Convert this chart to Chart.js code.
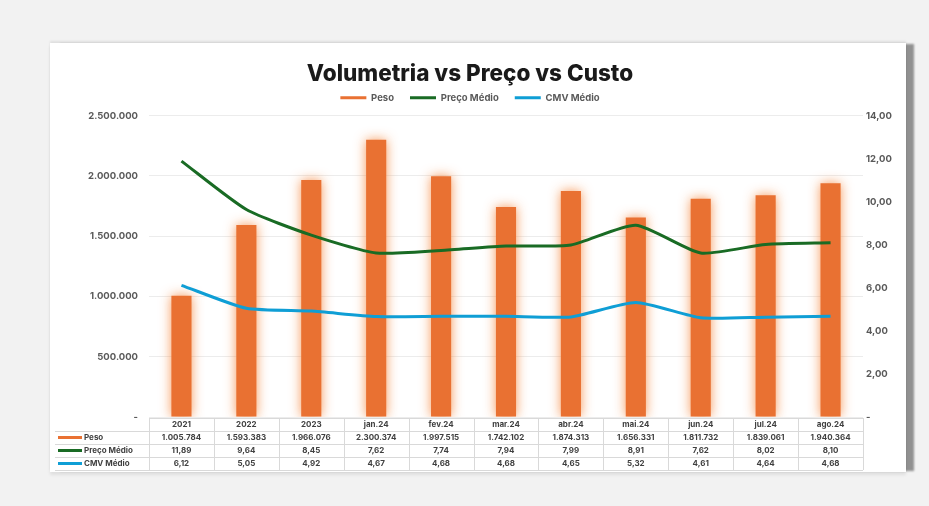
<!DOCTYPE html>
<html>
<head>
<meta charset="utf-8">
<script src="https://cdn.jsdelivr.net/npm/chart.js@4.4.1/dist/chart.umd.min.js"></script>
<style>
  html, body { margin: 0; padding: 0; background: #f2f2f2; }
  body { width: 929px; height: 506px; position: relative; overflow: hidden; }
  #card {
    position: absolute; left: 50px; top: 43px; width: 856px; height: 429px;
    background: #fff;
    box-shadow: 9px 0 2px -1px rgba(0,0,0,0.4), 0 -2px 2px rgba(0,0,0,0.08), 0 3px 3px rgba(0,0,0,0.08);
  }
  canvas { display: block; }
</style>
</head>
<body>
<div id="card"><canvas id="chart" width="856" height="429"></canvas></div>
<script>
// --- DADOS ---
const CATEGORIES = ['2021', '2022', '2023', 'jan.24', 'fev.24', 'mar.24', 'abr.24', 'mai.24', 'jun.24', 'jul.24', 'ago.24'];
const PESO = [1005784, 1593383, 1966076, 2300374, 1997515, 1742102, 1874313, 1656331, 1811732, 1839061, 1940364];
const PRECO_MEDIO = [11.89, 9.64, 8.45, 7.62, 7.74, 7.94, 7.99, 8.91, 7.62, 8.02, 8.10];
const CMV_MEDIO = [6.12, 5.05, 4.92, 4.67, 4.68, 4.68, 4.65, 5.32, 4.61, 4.64, 4.68];
const SERIES_NAMES = ['Peso', 'Preço Médio', 'CMV Médio'];
const COLORS = ['#E97132', '#196B24', '#0F9ED5'];

const FONT = "'Inter', 'DejaVu Sans', sans-serif";
const TEXT_COLOR = '#404040';

// formatos pt-BR
function fmtInt(v) { return v === 0 ? '-' : Math.round(v).toLocaleString('pt-BR'); }
function fmtDec(v) { return v === 0 ? '-' : v.toFixed(2).replace('.', ','); }

// --- BRILHO NAS BARRAS ---
const barGlow = {
  id: 'barGlow',
  beforeDatasetDraw(chart, args) {
    if (args.index !== 0) return;
    const ctx = chart.ctx;
    ctx.save();
    ctx.shadowColor = 'rgba(245, 140, 70, 0.9)';
    ctx.shadowBlur = 12;
  },
  afterDatasetDraw(chart, args) {
    if (args.index !== 0) return;
    chart.ctx.restore();
  }
};

// --- TABELA DE DADOS (embaixo do gráfico) ---
const dataTable = {
  id: 'dataTable',
  afterDraw(chart) {
    const ctx = chart.ctx;
    const x = chart.scales.x;
    const top = chart.chartArea.bottom + 1;
    const rowH = 13;
    const colW = x.width / CATEGORIES.length;
    const left = chart.chartArea.left;
    const right = chart.chartArea.right;
    const rows = [
      PESO.map(fmtInt),
      PRECO_MEDIO.map(fmtDec),
      CMV_MEDIO.map(fmtDec)
    ];

    ctx.save();
    ctx.strokeStyle = '#d9d9d9';
    ctx.lineWidth = 1;

    // linhas horizontais
    for (let r = 0; r <= 4; r++) {
      const y = Math.round(top + r * rowH) + 0.5;
      ctx.beginPath();
      ctx.moveTo(r === 0 ? left : 5, y);
      ctx.lineTo(right, y);
      ctx.stroke();
    }
    // linhas verticais
    for (let c = 0; c <= CATEGORIES.length; c++) {
      const xx = Math.round(left + c * colW) + 0.5;
      ctx.beginPath();
      ctx.moveTo(xx, top);
      ctx.lineTo(xx, top + 4 * rowH);
      ctx.stroke();
    }

    ctx.font = 'bold 8px ' + FONT;
    ctx.fillStyle = TEXT_COLOR;
    ctx.textAlign = 'center';
    ctx.textBaseline = 'middle';
    CATEGORIES.forEach((cat, i) => {
      const cx = x.getPixelForValue(i);
      ctx.fillText(cat, cx, top + rowH / 2);
      rows.forEach((row, r) => {
        ctx.fillText(row[i], cx, top + (r + 1.5) * rowH);
      });
    });

    // rótulos das séries com chave colorida
    ctx.textAlign = 'left';
    SERIES_NAMES.forEach((name, r) => {
      const cy = top + (r + 1.5) * rowH;
      ctx.strokeStyle = COLORS[r];
      ctx.lineWidth = 3;
      ctx.beginPath();
      ctx.moveTo(8, cy);
      ctx.lineTo(32, cy);
      ctx.stroke();
      ctx.fillText(name, 34, cy);
    });
    ctx.restore();
  }
};

const ctx = document.getElementById('chart').getContext('2d');
new Chart(ctx, {
  data: {
    labels: CATEGORIES,
    datasets: [
      {
        type: 'bar',
        label: SERIES_NAMES[0],
        data: PESO,
        backgroundColor: COLORS[0],
        yAxisID: 'y',
        order: 2,
        barPercentage: 0.62,
        categoryPercentage: 0.5
      },
      {
        type: 'line',
        label: SERIES_NAMES[1],
        data: PRECO_MEDIO,
        borderColor: COLORS[1],
        backgroundColor: COLORS[1],
        borderWidth: 3,
        pointRadius: 0,
        tension: 0.2,
        yAxisID: 'y1',
        order: 1
      },
      {
        type: 'line',
        label: SERIES_NAMES[2],
        data: CMV_MEDIO,
        borderColor: COLORS[2],
        backgroundColor: COLORS[2],
        borderWidth: 3,
        pointRadius: 0,
        tension: 0.2,
        yAxisID: 'y1',
        order: 1
      }
    ]
  },
  options: {
    responsive: false,
    animation: false,
    // margem esquerda negativa para centralizar título/legenda como no original
    layout: { padding: { top: 0, left: -16, right: 0, bottom: 55 } },
    plugins: {
      title: {
        display: true,
        text: 'Volumetria vs Preço vs Custo',
        color: '#1a1a1a',
        font: { family: FONT, size: 22.5, weight: '800' },
        padding: { top: 18, bottom: -11 }
      },
      // espaçador entre legenda e área do gráfico
      subtitle: {
        display: true,
        text: ' ',
        font: { size: 1 },
        padding: { top: 2, bottom: 0 }
      },
      legend: {
        display: true,
        weight: 1600,
        labels: {
          color: '#595959',
          font: { family: FONT, size: 9.5, weight: 'bold' },
          boxWidth: 26,
          boxHeight: 8,
          pointStyleWidth: 26,
          padding: 16,
          usePointStyle: true,
          generateLabels(chart) {
            return chart.data.datasets.map((ds, i) => ({
              text: ds.label,
              fillStyle: COLORS[i],
              strokeStyle: COLORS[i],
              lineWidth: 3,
              pointStyle: 'line',
              datasetIndex: i,
              fontColor: '#595959'
            }));
          }
        }
      },
      tooltip: { enabled: false }
    },
    scales: {
      x: {
        display: false,
        offset: true
      },
      y: {
        position: 'left',
        min: 0,
        max: 2500000,
        ticks: {
          stepSize: 500000,
          color: '#595959',
          font: { family: FONT, size: 9.5, weight: 'bold' },
          padding: 11,
          callback: v => fmtInt(v)
        },
        grid: { color: '#ececec', drawTicks: false },
        border: { display: false },
        afterFit(scale) { scale.width = 115; }
      },
      y1: {
        position: 'right',
        min: 0,
        max: 14,
        ticks: {
          stepSize: 2,
          color: '#595959',
          font: { family: FONT, size: 9.5, weight: 'bold' },
          padding: 3,
          callback: v => fmtDec(v)
        },
        grid: { display: false, drawTicks: false },
        border: { display: false },
        afterFit(scale) { scale.width = 43; }
      }
    }
  },
  plugins: [barGlow, dataTable]
});
</script>
</body>
</html>
